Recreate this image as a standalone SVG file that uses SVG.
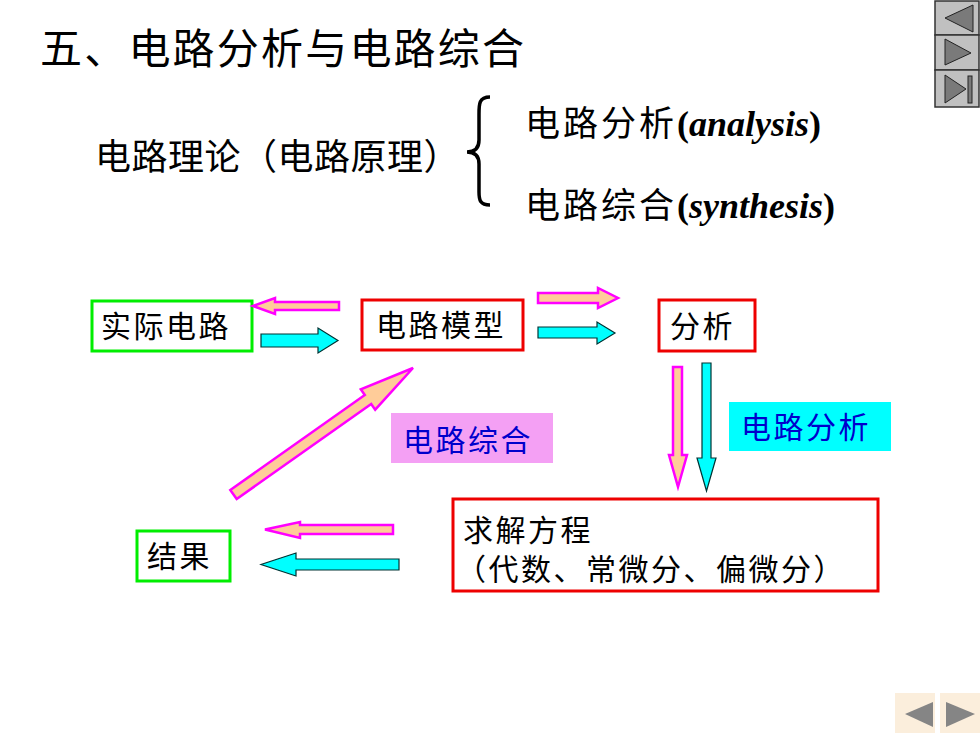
<svg xmlns="http://www.w3.org/2000/svg" width="980" height="735" viewBox="0 0 980 735">
<style>
.cjk{font-family:"Noto Sans CJK SC","Noto Sans",sans-serif;fill:#000}
.t30{font-size:30px;letter-spacing:2.5px}
.lbl{fill:#0000cc}
.en{font-family:"Liberation Serif","Times New Roman",serif;font-weight:bold;font-size:36px}
.green{fill:#fff;stroke:#00ee00;stroke-width:3}
.red{fill:#fff;stroke:#ee0000;stroke-width:3}
.pk{fill:#ffcc99;stroke:#ff00ff;stroke-width:2.5;stroke-linejoin:miter}
.cy{fill:#00ffff;stroke:#003333;stroke-width:1.2}
.navbtn{fill:#c0c0c0;stroke:#333;stroke-width:1.5}
.navtri{fill:#7a7a7a;stroke:#222;stroke-width:1}
</style>
<rect width="980" height="735" fill="#fff"/>

<g id="title">
<text class="cjk" x="40" y="64" font-size="42" letter-spacing="2.2">五、电路分析与电路综合</text>
</g>

<g id="theory">
<text class="cjk" x="95" y="170" font-size="36" letter-spacing="0.5">电路理论（电路原理）</text>
<path d="M490 97 C479 97 479 104 479 114 L479 140 C479 148 475 152 467 152 C475 152 479 156 479 164 L479 192 C479 200 480 205 490 205" fill="none" stroke="#000" stroke-width="3.5"/>
<text class="cjk" x="525" y="136" font-size="35" letter-spacing="3">电路分析<tspan class="en" letter-spacing="0">(<tspan font-style="italic">analysis</tspan>)</tspan></text>
<text class="cjk" x="525" y="218" font-size="35" letter-spacing="3">电路综合<tspan class="en" letter-spacing="0">(<tspan font-style="italic">synthesis</tspan>)</tspan></text>
</g>

<g id="node-shiji">
<rect class="green" x="92" y="301" width="160" height="50"/>
<text class="cjk t30" x="101" y="337">实际电路</text>
</g>
<g id="node-moxing">
<rect class="red" x="362" y="300" width="161" height="50"/>
<text class="cjk t30" x="376" y="336">电路模型</text>
</g>
<g id="node-fenxi">
<rect class="red" x="659" y="300" width="96" height="51"/>
<text class="cjk t30" x="670" y="337">分析</text>
</g>
<g id="label-zonghe">
<rect x="391" y="413" width="162" height="50" fill="#f4a0f4"/>
<text class="cjk t30 lbl" x="403" y="451">电路综合</text>
</g>
<g id="label-fenxi">
<rect x="729" y="402" width="162" height="49" fill="#00ffff"/>
<text class="cjk t30 lbl" x="741" y="438">电路分析</text>
</g>
<g id="node-qiujie">
<rect class="red" x="453" y="499" width="425" height="92"/>
<text class="cjk t30" x="463" y="541">求解方程</text>
<text class="cjk t30" x="456" y="580">（代数、常微分、偏微分）</text>
</g>
<g id="node-jieguo">
<rect class="green" x="137" y="531" width="93" height="50"/>
<text class="cjk t30" x="147" y="567">结果</text>
</g>

<g id="connectors">
<polygon class="pk" points="339,302 275,302 275,298 253,306 275,314 275,310 339,310"/>
<polygon class="cy" points="261,334 318,334 318,328 338,340.5 318,353 318,347 261,347"/>
<polygon class="pk" points="538,293 598,293 598,288 618,298 598,308 598,303 538,303"/>
<polygon class="cy" points="538,327 597,327 597,322 615,333 597,344 597,338 538,338"/>
<polygon class="pk" points="673,367 682,367 682,455 687,455 678,487 669,455 673,455"/>
<polygon class="cy" points="702,363 711,363 711,458 716,458 706.5,491 697,458 702,458"/>
<polygon class="pk" points="393,525 300,525 300,522 265,529.5 300,538 300,534 393,534"/>
<polygon class="cy" points="399,559 296,559 296,553 261,564.5 296,576 296,570 399,570"/>
<polygon class="pk" points="236.7,499 230.3,490 364.8,395 360.8,389.3 413,368 375.2,409.7 371.2,404"/>
</g>

<g id="nav-top">
<rect class="navbtn" x="935" y="1" width="44" height="34"/>
<rect class="navbtn" x="935" y="35" width="44" height="35"/>
<rect class="navbtn" x="935" y="70" width="44" height="37"/>
<polygon class="navtri" points="945,18 973,5 973,32"/>
<polygon class="navtri" points="945,39 971,53 945,65"/>
<polygon class="navtri" points="945,75 966,89 945,103"/>
<rect class="navtri" x="968" y="76" width="4" height="27"/>
</g>

<g id="nav-bottom">
<rect x="895" y="693" width="40" height="40" fill="#fbeedc"/>
<rect x="940" y="693" width="40" height="40" fill="#fbeedc"/>
<polygon points="905,714 933,702 933,727" fill="#858585"/>
<polygon points="946,702 975,714 946,727" fill="#858585"/>
</g>
</svg>
